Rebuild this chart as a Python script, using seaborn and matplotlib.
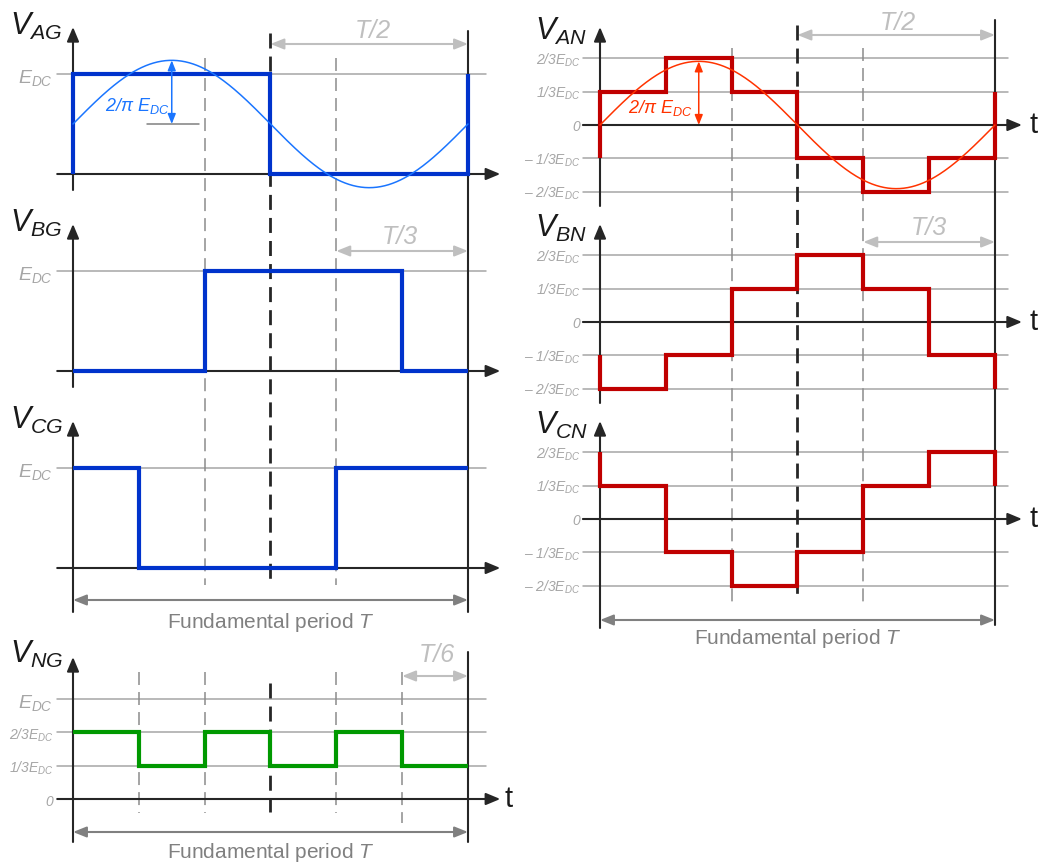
import numpy as np
import pandas as pd
import matplotlib
matplotlib.use("Agg")
from matplotlib import pyplot as plt
import seaborn as sns

# levels over each sixth of the period, in units of E_DC
sixths = [0, 1, 2, 3, 4, 5, 6]
v_ag = [1, 1, 1, 0, 0, 0]
v_bg = [0, 0, 1, 1, 1, 0]
v_cg = [1, 0, 0, 0, 1, 1]
v_ng = [2/3, 1/3, 2/3, 1/3, 2/3, 1/3]
v_an = [1/3, 2/3, 1/3, -1/3, -2/3, -1/3]
v_bn = [-2/3, -1/3, 1/3, 2/3, 1/3, -1/3]
v_cn = [1/3, -1/3, -2/3, -1/3, 1/3, 2/3]

# fundamental component
fund_amp = 2 / np.pi
ag_mean = 0.5

ng_levels = [1, 2/3, 1/3, 0]
ng_labels = ["$E_{DC}$", "2/3$E_{DC}$", "1/3$E_{DC}$", "0"]
ng_sizes = [14, 10, 10, 10]
phase_levels = [2/3, 1/3, 0, -1/3, -2/3]
phase_labels = ["2/3$E_{DC}$", "1/3$E_{DC}$", "0", "\u2013 1/3$E_{DC}$", "\u2013 2/3$E_{DC}$"]

sns.set_theme(style="white")
plt.rcParams["font.family"] = ["Liberation Sans", "DejaVu Sans"]
plt.rcParams["mathtext.fontset"] = "custom"
plt.rcParams["mathtext.it"] = "Liberation Sans:italic"
plt.rcParams["mathtext.rm"] = "Liberation Sans"
plt.rcParams["mathtext.sf"] = "Liberation Sans"

AXC = "#262626"
GRID = "#a6a6a6"
DASH = "#8c8c8c"
LBL = "#a6a6a6"
DIM = "#bfbfbf"
FUND = "#808080"
BLUE = "#0033cc"
LBLUE = "#1a75ff"
RED = "#c00000"
ORANGE = "#ff3300"
GREEN = "#009900"


def steps(levels, offset, wrap=True):
    t, v = [], []
    if wrap:
        t.append(sixths[0]); v.append(levels[-1])
    for i, lv in enumerate(levels):
        t += [sixths[i], sixths[i + 1]]
        v += [lv, lv]
    if wrap:
        t.append(sixths[-1]); v.append(levels[0])
    df = pd.DataFrame({"t": t, "v": v})
    df["v"] = df["v"] + offset
    return df


def arrow(ax, x0, y0, x1, y1, color, lw, hl, hw, style="-|>", z=3):
    ax.annotate("", xy=(x1, y1), xytext=(x0, y0), annotation_clip=False, zorder=z,
                arrowprops=dict(arrowstyle=f"{style},head_length={hl},head_width={hw}",
                                color=color, lw=lw, shrinkA=0, shrinkB=0,
                                mutation_scale=20))


def wave(ax, levels, offset, color, wrap=True):
    df = steps(levels, offset, wrap)
    sns.lineplot(data=df, x="t", y="v", sort=False, estimator=None, color=color,
                 lw=3, ax=ax, zorder=4, legend=False,
                 solid_joinstyle="miter", solid_capstyle="butt")


def vdash(ax, t, y0, y1, black=False):
    if black:
        ax.plot([t, t], [y0, y1], color=AXC, lw=2, dashes=(5.4, 2.9), zorder=2)
    else:
        ax.plot([t, t], [y0, y1], color=DASH, lw=1.1, dashes=(8.5, 4.6), zorder=2)


fig = plt.figure(figsize=(10.46, 8.63), dpi=100)
axL = fig.add_axes([0, 0, 520 / 1046, 1])
axR = fig.add_axes([520 / 1046, 0, 526 / 1046, 1])
axL.set_xlim(-73 / 65.833, 447 / 65.833)
axL.set_ylim(-6.89, 1.74)
axR.set_xlim(-80 / 65.833, 446 / 65.833)
axR.set_ylim(-7.38, 1.25)
for ax in (axL, axR):
    ax.axis("off")

# ---------------- left column: pole voltages ----------------
left = [("AG", v_ag, 0.0, -0.16), ("BG", v_bg, -1.97, -0.16), ("CG", v_cg, -3.94, -0.44)]
for name, lv, o, ybot in left:
    axL.plot([-0.24, 6.27], [o + 1, o + 1], color=GRID, lw=1.1, zorder=1)
    arrow(axL, -0.24, o, 6.49, o, AXC, 1.5, 0.43, 0.18)
    arrow(axL, 0, o + ybot, 0, o + 1.47, AXC, 1.5, 0.43, 0.18)
    axL.text(-0.3, o + 1 - 0.09, "$E_{DC}$", color=LBL, fontsize=14, ha="right", va="baseline")
    axL.text(-0.957, o + 1.39, f"$V_{{{name}}}$", color="#1a1a1a", fontsize=22, ha="left", va="baseline")
    wave(axL, lv, o, BLUE)

tt = np.linspace(0, 6, 300)
axL.plot(tt, ag_mean + fund_amp * np.sin(2 * np.pi * tt / 6), color=LBLUE, lw=1.1, zorder=5)
axL.plot([1.12, 1.92], [ag_mean, ag_mean], color=FUND, lw=1.1, zorder=5)
arrow(axL, 1.5, ag_mean, 1.5, ag_mean + fund_amp, LBLUE, 1.1, 0.3, 0.12, "<|-|>", z=6)
axL.text(1.47, 0.68, "2/\u03c0 $E_{DC}$", color=LBLUE, fontsize=13, style="italic", ha="right", va="center")

axL.plot([6, 6], [1.43, -4.38], color=AXC, lw=1.5, zorder=3)
vdash(axL, 3, 1.41, -4.09, black=True)
for t in (2, 4):
    vdash(axL, t, 1.16, -4.11)

arrow(axL, 3, 1.30, 6, 1.30, DIM, 1.5, 0.4, 0.16, "<|-|>")
axL.text(4.55, 1.43, "T/2", color=DIM, fontsize=18, style="italic", ha="center", va="center")
arrow(axL, 4, -1.97 + 1.20, 6, -1.97 + 1.20, DIM, 1.5, 0.4, 0.16, "<|-|>")
axL.text(4.97, -1.97 + 1.34, "T/3", color=DIM, fontsize=18, style="italic", ha="center", va="center")
arrow(axL, 0, -4.26, 6, -4.26, FUND, 1.5, 0.4, 0.16, "<|-|>")
axL.text(3, -4.48, "Fundamental period $T$", color=FUND, fontsize=15, ha="center", va="center")

# ---------------- neutral point voltage ----------------
o = -6.25
for lv, lab, fs in zip(ng_levels, ng_labels, ng_sizes):
    if lv > 0:
        axL.plot([-0.24, 6.27], [o + lv, o + lv], color=GRID, lw=1.1, zorder=1)
    axL.text(-0.3, o + lv - (0.09 if fs > 10 else 0.07), lab, color=LBL, fontsize=fs,
             style="italic", ha="right", va="baseline")
arrow(axL, -0.24, o, 6.49, o, AXC, 1.5, 0.43, 0.18)
axL.text(6.55, o, "t", color="#1a1a1a", fontsize=21, ha="left", va="center")
arrow(axL, 0, o - 0.43, 0, o + 1.42, AXC, 1.5, 0.43, 0.18)
axL.text(-0.957, o + 1.36, "$V_{NG}$", color="#1a1a1a", fontsize=22, ha="left", va="baseline")
axL.plot([6, 6], [o + 1.47, o - 0.43], color=AXC, lw=1.5, zorder=3)
for t in (1, 2, 4):
    vdash(axL, t, o + 1.27, o - 0.14)
vdash(axL, 5, o + 1.27, o - 0.24)
vdash(axL, 3, o + 1.16, o - 0.13, black=True)
wave(axL, v_ng, o, GREEN, wrap=False)
arrow(axL, 5, o + 1.23, 6, o + 1.23, DIM, 1.5, 0.4, 0.16, "<|-|>")
axL.text(5.53, o + 1.44, "T/6", color=DIM, fontsize=18, style="italic", ha="center", va="center")
arrow(axL, 0, o - 0.33, 6, o - 0.33, FUND, 1.5, 0.4, 0.16, "<|-|>")
axL.text(3, o - 0.53, "Fundamental period $T$", color=FUND, fontsize=15, ha="center", va="center")

# ---------------- right column: phase voltages ----------------
right = [("AN", v_an, 0.0, -0.81), ("BN", v_bn, -1.97, -0.81), ("CN", v_cn, -3.94, -1.09)]
for name, lv, o, ybot in right:
    for lvl, lab in zip(phase_levels, phase_labels):
        if lvl != 0:
            axR.plot([-0.26, 6.20], [o + lvl, o + lvl], color=GRID, lw=1.1, zorder=1)
        axR.text(-0.3, o + lvl - 0.06, lab, color=LBL, fontsize=10, style="italic",
                 ha="right", va="baseline")
    arrow(axR, -0.26, o, 6.41, o, AXC, 1.5, 0.43, 0.18)
    axR.text(6.52, o, "t", color="#1a1a1a", fontsize=21, ha="left", va="center")
    arrow(axR, 0, o + ybot, 0, o + 0.98, AXC, 1.5, 0.43, 0.18)
    axR.text(-0.99, o + 0.85, f"$V_{{{name}}}$", color="#1a1a1a", fontsize=22, ha="left", va="baseline")
    wave(axR, lv, o, RED)

axR.plot(tt, fund_amp * np.sin(2 * np.pi * tt / 6), color=ORANGE, lw=1.1, zorder=5)
arrow(axR, 1.5, 0, 1.5, fund_amp, ORANGE, 1.1, 0.3, 0.12, "<|-|>", z=6)
axR.text(1.40, 0.17, "2/\u03c0 $E_{DC}$", color=ORANGE, fontsize=13, style="italic", ha="right", va="center")

axR.plot([6, 6], [1.05, -5.00], color=AXC, lw=1.5, zorder=3)
vdash(axR, 3, 1.00, -4.75, black=True)
for t in (2, 4):
    vdash(axR, t, 0.77, -4.77)

arrow(axR, 3, 0.90, 6, 0.90, DIM, 1.5, 0.4, 0.16, "<|-|>")
axR.text(4.53, 1.02, "T/2", color=DIM, fontsize=18, style="italic", ha="center", va="center")
arrow(axR, 4, -1.97 + 0.80, 6, -1.97 + 0.80, DIM, 1.5, 0.4, 0.16, "<|-|>")
axR.text(5.0, -1.97 + 0.94, "T/3", color=DIM, fontsize=18, style="italic", ha="center", va="center")
arrow(axR, 0, -4.95, 6, -4.95, FUND, 1.5, 0.4, 0.16, "<|-|>")
axR.text(3, -5.13, "Fundamental period $T$", color=FUND, fontsize=15, ha="center", va="center")

fig.savefig("out.png", dpi=100, facecolor="white")
